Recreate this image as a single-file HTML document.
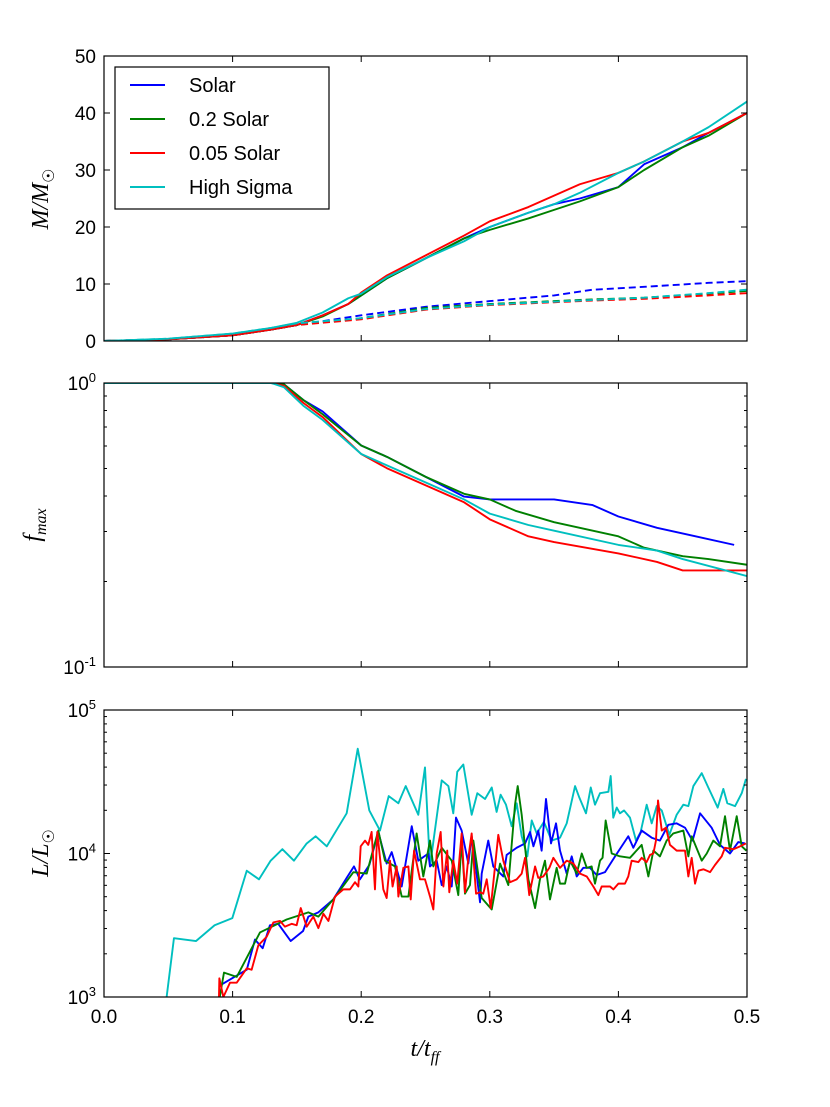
<!DOCTYPE html>
<html><head><meta charset="utf-8">
<style>
html,body{margin:0;padding:0;background:#fff;}
svg{display:block;font-family:"Liberation Sans","DejaVu Sans",sans-serif;}
</style></head>
<body>
<svg id="chart" width="830" height="1107" viewBox="0 0 830 1107" xmlns="http://www.w3.org/2000/svg"></svg>
<script>
// ---------- DATA ----------
const xTicks = [0.0, 0.1, 0.2, 0.3, 0.4, 0.5];
const xTickLabels = ["0.0", "0.1", "0.2", "0.3", "0.4", "0.5"];
const massTicks = [0, 10, 20, 30, 40, 50];
const seriesNames = ["Solar", "0.2 Solar", "0.05 Solar", "High Sigma"];

// Panel 1: mass (solid)
const massT = [0,0.05,0.1,0.13,0.15,0.17,0.19,0.2,0.22,0.25,0.28,0.3,0.33,0.35,0.37,0.4,0.42,0.45,0.47,0.5];
const massSolar = [0,0.3,1,2,2.8,4.5,6.5,8,11,14.5,18,20,22.5,24,25,27,31,34,36.5,40];
const massSolar02 = [0,0.3,1,2,2.8,4.3,6.5,8,11,14.5,18,19.5,21.5,23,24.5,27,30,34,36,40];
const massSolar005 = [0,0.3,1,2,2.8,4.5,6.5,8.5,11.5,15,18.5,21,23.5,25.5,27.5,29.5,31.5,35,36.5,40];
const massHigh = [0,0.4,1.3,2.3,3.2,5,7.5,8.3,11.2,14.5,17.5,20,22.5,24,26,29.5,31.5,35,37.5,42];
// Panel 1: dashed
const dashT = [0,0.05,0.1,0.13,0.15,0.2,0.25,0.3,0.35,0.38,0.42,0.47,0.5];
const dashSolar = [0,0.3,1,2,2.8,4.5,6,7,8,9,9.5,10.2,10.5];
const dashSolar02 = [0,0.3,1,2,2.8,4,5.8,6.5,7,7.3,7.6,8.3,8.8];
const dashSolar005 = [0,0.3,1,2,2.8,3.8,5.5,6.3,6.8,7.1,7.4,8,8.4];
const dashHigh = [0,0.4,1.3,2.3,3.1,4,5.6,6.4,6.9,7.2,7.6,8.4,9];

// Panel 2: log10 f_max
const fT1 = [0,0.13,0.14,0.155,0.17,0.2,0.22,0.25,0.28,0.3,0.33,0.35,0.38,0.4,0.43,0.46,0.49];
const fSolar = [0,0,-0.005,-0.06,-0.1,-0.22,-0.26,-0.33,-0.4,-0.41,-0.41,-0.41,-0.43,-0.47,-0.51,-0.54,-0.57];
const fT2 = [0,0.13,0.14,0.155,0.17,0.2,0.22,0.25,0.28,0.3,0.32,0.35,0.4,0.42,0.45,0.47,0.5];
const fSolar02 = [0,0,-0.005,-0.06,-0.11,-0.22,-0.26,-0.33,-0.39,-0.41,-0.45,-0.49,-0.54,-0.58,-0.61,-0.62,-0.64];
const fT3 = [0,0.13,0.14,0.155,0.17,0.2,0.22,0.25,0.28,0.3,0.33,0.35,0.4,0.43,0.45,0.5];
const fSolar005 = [0,0,-0.01,-0.07,-0.12,-0.25,-0.3,-0.36,-0.42,-0.48,-0.54,-0.56,-0.6,-0.63,-0.66,-0.66];
const fHigh = [0,0,-0.015,-0.08,-0.13,-0.25,-0.29,-0.35,-0.41,-0.46,-0.5,-0.52,-0.57,-0.59,-0.62,-0.68];

// Panel 3: log10 L
const lTHigh = [0.0487,0.0544,0.0716,0.086,0.0998,0.111,0.1205,0.1296,0.1387,0.1477,0.1576,0.1646,0.1732,0.1887,0.1973,0.2063,0.2146,0.2214,0.2289,0.2346,0.2444,0.2496,0.2535,0.2626,0.2678,0.2716,0.2747,0.2794,0.2859,0.2903,0.2963,0.3015,0.3053,0.3084,0.3126,0.317,0.3209,0.3248,0.3292,0.3326,0.3365,0.3421,0.3481,0.3546,0.3598,0.3663,0.3696,0.3748,0.3785,0.3818,0.3857,0.3922,0.394,0.396,0.3987,0.4012,0.4044,0.409,0.4137,0.4173,0.422,0.4259,0.4298,0.4337,0.4396,0.4453,0.4505,0.4544,0.4583,0.4648,0.4699,0.4772,0.4816,0.4847,0.4907,0.4959,0.4992];
const lHigh = [3.0,3.41,3.39,3.5,3.55,3.88,3.82,3.95,4.03,3.95,4.07,4.12,4.05,4.28,4.73,4.3,4.16,4.4,4.35,4.47,4.27,4.6,3.91,4.51,4.47,4.28,4.57,4.62,4.27,4.42,4.38,4.46,4.29,4.41,4.34,4.19,4.35,4.12,3.98,4.23,4.14,4.22,4.09,4.11,4.21,4.47,4.39,4.28,4.46,4.34,4.42,4.43,4.54,4.25,4.32,4.28,4.3,4.25,4.09,4.15,4.34,4.21,4.33,4.3,4.13,4.27,4.34,4.33,4.47,4.56,4.46,4.32,4.45,4.35,4.33,4.42,4.52];
const lTSolar = [0.09,0.111,0.1174,0.1234,0.129,0.1355,0.1452,0.1548,0.1589,0.1667,0.1783,0.1887,0.1944,0.199,0.2063,0.2133,0.2198,0.2237,0.2315,0.2393,0.2444,0.2522,0.2535,0.2587,0.2626,0.2665,0.2704,0.2737,0.2781,0.2833,0.2859,0.2885,0.2924,0.2937,0.2988,0.3027,0.3105,0.3131,0.3209,0.3274,0.3313,0.3339,0.3377,0.3403,0.3437,0.3476,0.3515,0.3546,0.3598,0.3637,0.3676,0.3727,0.3779,0.3831,0.3896,0.3974,0.4077,0.4116,0.4181,0.4259,0.4323,0.4388,0.4453,0.4518,0.4577,0.4635,0.4725,0.479,0.4868,0.4932,0.4984];
const lSolar = [3.08,3.19,3.4,3.34,3.5,3.51,3.39,3.46,3.56,3.59,3.68,3.83,3.91,3.82,3.92,4.15,3.93,4.01,3.77,4.19,3.95,4.0,3.91,3.95,3.78,3.91,3.77,4.25,4.16,3.93,4.12,3.95,3.66,3.86,4.09,3.91,3.84,3.99,4.04,4.07,4.15,4.05,4.16,4.02,4.38,4.07,4.21,4.02,3.86,3.98,3.84,3.9,3.9,3.85,3.87,3.98,4.12,4.04,4.16,4.11,4.09,4.2,4.21,4.18,4.09,4.28,4.18,4.06,4.0,4.08,4.07];
const lTSolar02 = [0.09,0.0933,0.1032,0.1213,0.142,0.1589,0.1667,0.1783,0.1939,0.2043,0.2133,0.2185,0.2263,0.2315,0.2367,0.2431,0.2483,0.2535,0.2561,0.2626,0.2704,0.2755,0.2781,0.2807,0.2846,0.2872,0.2937,0.3015,0.308,0.3144,0.3196,0.3217,0.3248,0.33,0.3352,0.339,0.3429,0.3468,0.352,0.3546,0.3585,0.3624,0.3676,0.3715,0.3754,0.3792,0.3818,0.3857,0.3877,0.3901,0.3948,0.4012,0.409,0.4181,0.4233,0.4272,0.4323,0.4375,0.4427,0.4505,0.4544,0.457,0.4648,0.4687,0.4738,0.479,0.4829,0.4868,0.492,0.4959,0.4995];
const lSolar02 = [3.0,3.17,3.14,3.45,3.54,3.59,3.56,3.68,3.87,3.86,4.16,3.95,3.91,3.7,3.7,4.14,3.84,4.09,3.91,4.04,3.95,3.71,4.09,3.72,3.78,4.09,3.69,3.61,3.93,3.78,4.34,4.47,4.27,3.82,3.62,3.82,3.95,3.68,3.9,3.79,3.79,3.95,3.86,4.0,3.9,3.91,3.79,3.95,3.97,4.23,4.0,3.98,3.97,4.06,3.84,4.02,3.98,4.09,4.14,4.16,3.98,4.12,3.95,4.0,4.09,4.05,4.26,4.02,4.26,4.05,4.02];
const lTSolar005 = [0.0894,0.0897,0.0928,0.098,0.1032,0.111,0.1148,0.12,0.1265,0.1317,0.1369,0.1407,0.1459,0.1498,0.153,0.1576,0.1628,0.1667,0.1706,0.1745,0.1796,0.1861,0.1913,0.1952,0.1978,0.1996,0.203,0.2055,0.2081,0.2107,0.2125,0.2172,0.2198,0.2224,0.2244,0.2276,0.2289,0.2328,0.2367,0.2385,0.2411,0.2457,0.2496,0.2535,0.2561,0.2587,0.2618,0.2639,0.2669,0.2685,0.2716,0.2747,0.2781,0.2807,0.2833,0.2859,0.2893,0.2924,0.2949,0.2976,0.3007,0.3066,0.3105,0.3157,0.3209,0.3248,0.3274,0.3307,0.3352,0.3377,0.3416,0.3463,0.3494,0.3546,0.3598,0.365,0.3702,0.3754,0.3805,0.3844,0.387,0.3935,0.3961,0.4,0.4051,0.4077,0.4103,0.4155,0.4181,0.4219,0.4246,0.4272,0.4292,0.4308,0.4337,0.437,0.4401,0.4453,0.4518,0.4544,0.457,0.4596,0.4622,0.4661,0.4713,0.4751,0.4803,0.4829,0.4894,0.4946,0.4992];
const lSolar005 = [3.0,3.13,3.0,3.1,3.1,3.2,3.19,3.36,3.42,3.52,3.53,3.49,3.51,3.5,3.62,3.49,3.56,3.48,3.58,3.53,3.7,3.75,3.75,3.8,3.77,4.05,4.09,4.06,4.15,3.75,4.15,3.75,3.69,3.95,3.77,3.91,3.7,3.9,3.91,3.68,4.02,3.82,3.82,3.7,3.61,4.0,4.15,3.77,4.02,3.73,3.95,3.79,4.14,3.73,3.97,4.14,3.72,3.73,3.72,3.82,3.62,4.13,3.95,3.8,3.82,3.86,3.97,3.71,3.91,3.83,3.84,3.9,3.97,3.9,3.95,3.93,3.86,3.84,3.77,3.71,3.77,3.77,3.75,3.79,3.79,3.84,3.95,3.94,3.97,3.94,3.99,4.0,4.09,4.37,4.16,4.18,4.06,4.02,4.02,3.84,3.97,3.79,3.88,3.89,3.87,3.92,3.98,4.04,4.03,4.05,4.07];

// ---------- LAYOUT ----------
const NS = "http://www.w3.org/2000/svg";
const svg = document.getElementById("chart");
const X0 = 104, X1 = 747;
const colors = ["#0000ff", "#008000", "#ff0000", "#00bfbf"];
const P1 = {top: 56, bottom: 341}, P2 = {top: 383, bottom: 667}, P3 = {top: 710, bottom: 997};
function sx(t) { return X0 + (t - 0.0) / 0.5 * (X1 - X0); }
function syMass(m) { return P1.bottom - m / 50 * (P1.bottom - P1.top); }
function syF(lg) { return P2.top + (0 - lg) / 1 * (P2.bottom - P2.top); }
function syL(lg) { return P3.bottom - (lg - 3) / 2 * (P3.bottom - P3.top); }

function mk(tag, attrs, parent) {
  const e = document.createElementNS(NS, tag);
  for (const k in attrs) e.setAttribute(k, attrs[k]);
  (parent || svg).appendChild(e);
  return e;
}
function clip(id, P) {
  const cp = mk("clipPath", {id: id});
  mk("rect", {x: X0, y: P.top, width: X1 - X0, height: P.bottom - P.top}, cp);
}
clip("c1", P1); clip("c2", P2); clip("c3", P3);

function line(ts, vs, sy, color, clipId, name, dash) {
  let d = "";
  ts.forEach((t, i) => { d += (i ? "L" : "M") + sx(t).toFixed(2) + "," + sy(vs[i]).toFixed(2); });
  const p = mk("path", {d: d, fill: "none", stroke: color, "stroke-width": 1.9, "stroke-linejoin": "round", "clip-path": "url(#" + clipId + ")"});
  if (dash) p.setAttribute("stroke-dasharray", "7,4");
  
  
}

// Panel 1
[[massSolar,0],[massSolar02,1],[massSolar005,2],[massHigh,3]].forEach(([v,i]) => line(massT, v, syMass, colors[i], "c1", "mass-line-" + i));
[[dashSolar,0],[dashSolar02,1],[dashSolar005,2],[dashHigh,3]].forEach(([v,i]) => line(dashT, v, syMass, colors[i], "c1", "mass-dashed-line-" + i, true));
// Panel 2
line(fT1, fSolar, syF, colors[0], "c2", "fmax-line-solar");
line(fT2, fSolar02, syF, colors[1], "c2", "fmax-line-0.2-solar");
line(fT3, fSolar005, syF, colors[2], "c2", "fmax-line-0.05-solar");
line(fT3, fHigh, syF, colors[3], "c2", "fmax-line-high-sigma");
// Panel 3
line(lTHigh, lHigh, syL, colors[3], "c3", "lum-line-high-sigma");
line(lTSolar, lSolar, syL, colors[0], "c3", "lum-line-solar");
line(lTSolar02, lSolar02, syL, colors[1], "c3", "lum-line-0.2-solar");
line(lTSolar005, lSolar005, syL, colors[2], "c3", "lum-line-0.05-solar");

// Axes frames & ticks
function frame(P, name) {
  const r = mk("rect", {x: X0, y: P.top, width: X1 - X0, height: P.bottom - P.top, fill: "none", stroke: "#000", "stroke-width": 1.2});
  
  
  xTicks.forEach(t => {
    mk("line", {x1: sx(t), x2: sx(t), y1: P.bottom, y2: P.bottom - 6, stroke: "#000", "stroke-width": 1});
    mk("line", {x1: sx(t), x2: sx(t), y1: P.top, y2: P.top + 6, stroke: "#000", "stroke-width": 1});
  });
}
function ytick(y, len) {
  mk("line", {x1: X0, x2: X0 + len, y1: y, y2: y, stroke: "#000", "stroke-width": 1});
  mk("line", {x1: X1, x2: X1 - len, y1: y, y2: y, stroke: "#000", "stroke-width": 1});
}
function text(x, y, s, anchor, name, size) {
  const e = mk("text", {x: x, y: y, "text-anchor": anchor, "font-size": size || 19, fill: "#000"});
  e.textContent = s;
  
  
  return e;
}
frame(P1, "mass-axes"); frame(P2, "fmax-axes"); frame(P3, "luminosity-axes");

massTicks.forEach(m => { ytick(syMass(m), 6); text(X0 - 8, syMass(m) + 7, String(m), "end", "mass-tick-label"); });

function logTicks(sy, lo, hi) {
  for (let d = lo; d < hi; d++) for (let k = 2; k <= 9; k++) ytick(sy(d + Math.log10(k)), 3);
  for (let d = lo; d <= hi; d++) ytick(sy(d), 6);
}
logTicks(syF, -1, 0);
logTicks(syL, 3, 5);

function powLabel(y, base, exp, name) {
  const e = mk("text", {x: X0 - 8, y: y + 7, "text-anchor": "end", "font-size": 19, fill: "#000"});
  
  
  const a = mk("tspan", {}, e); a.textContent = base;
  const b = mk("tspan", {dy: -8, "font-size": 13}, e); b.textContent = exp;
}
powLabel(syF(0), "10", "0", "fmax-tick-label");
powLabel(syF(-1), "10", "-1", "fmax-tick-label");
powLabel(syL(5), "10", "5", "lum-tick-label");
powLabel(syL(4), "10", "4", "lum-tick-label");
powLabel(syL(3), "10", "3", "lum-tick-label");

xTicks.forEach((t, i) => text(sx(t), P3.bottom + 26, xTickLabels[i], "middle", "x-tick-label"));

// Axis titles
function ytitle(cx, cy, parts, name) {
  const e = mk("text", {x: cx, y: cy, "text-anchor": "middle", "font-size": 24, "font-family": "'Liberation Serif',serif", "font-style": "italic", transform: "rotate(-90 " + cx + " " + cy + ")"});
  
  
  parts.forEach(p => { const s = mk("tspan", p.a || {}, e); s.textContent = p.t; });
}
ytitle(48, 199, [{t: "M/M"}, {t: "\u2609", a: {dy: 6, "font-size": 16, "font-style": "normal"}}], "y-axis-title-mass");
ytitle(40, 525, [{t: "f"}, {t: "max", a: {dy: 6, "font-size": 16}}], "y-axis-title-fmax");
ytitle(48, 853, [{t: "L/L"}, {t: "\u2609", a: {dy: 6, "font-size": 16, "font-style": "normal"}}], "y-axis-title-luminosity");
(function () {
  const e = mk("text", {x: 425, y: 1056, "text-anchor": "middle", "font-size": 24, "font-family": "'Liberation Serif',serif", "font-style": "italic"});
  
  
  const a = mk("tspan", {}, e); a.textContent = "t/t";
  const b = mk("tspan", {dy: 6, "font-size": 16}, e); b.textContent = "ff";
})();

// Legend
const lg = mk("g", {});


mk("rect", {x: 115, y: 67, width: 214, height: 142, fill: "#fff", stroke: "#000", "stroke-width": 1.2}, lg);
seriesNames.forEach((n, i) => {
  const y = 85 + i * 34;
  const g = mk("g", {}, lg);
  
  
  mk("line", {x1: 130, x2: 165, y1: y, y2: y, stroke: colors[i], "stroke-width": 1.9}, g);
  const t = mk("text", {x: 189, y: y + 7, "font-size": 20, fill: "#000"}, g);
  t.textContent = n;
});
</script>
</body></html>
